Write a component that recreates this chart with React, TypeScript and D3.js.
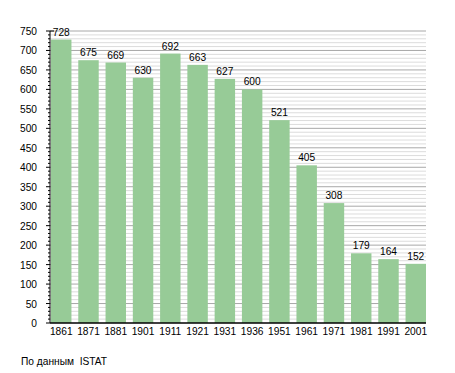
import React from "react";
import * as d3 from "d3";

const YEARS = ["1861", "1871", "1881", "1901", "1911", "1921", "1931", "1936", "1951", "1961", "1971", "1981", "1991", "2001"];
const POPULATION = [728, 675, 669, 630, 692, 663, 627, 600, 521, 405, 308, 179, 164, 152];
const MAJOR_TICKS = d3.range(0, 751, 50);
const MINOR_TICKS = d3.range(0, 751, 10);

const WIDTH = 455;
const HEIGHT = 373;
const LEFT = 50;
const RIGHT = 426;
const TOP = 31;
const BOTTOM = 323;

const BAR_COLOR = "#97cb97";
const FONT = "Liberation Sans, Arial, sans-serif";
const FONT_SIZE = 10.2;

const App = () => {
  const xScale = d3.scaleBand().domain(YEARS).range([51, RIGHT]).paddingInner(0.25).paddingOuter(0);
  const yScale = d3.scaleLinear().domain([0, 750]).range([BOTTOM, TOP]);

  return (
    <svg width={WIDTH} height={HEIGHT} style={{ position: "absolute", left: 0, top: 0 }}>
      <rect width={WIDTH} height={HEIGHT} fill="#ffffff" />
      {/* minor grid */}
      {MINOR_TICKS.filter((t) => t % 50 !== 0).map((t) => (
        <line key={"m" + t} x1={LEFT} x2={RIGHT} y1={yScale(t)} y2={yScale(t)} stroke="#dcdcdc" strokeWidth={1} />
      ))}
      {MAJOR_TICKS.filter((t) => t > 0).map((t) => (
        <line key={"M" + t} x1={LEFT} x2={RIGHT} y1={yScale(t)} y2={yScale(t)} stroke="#a8a8a8" strokeWidth={1} />
      ))}
      {/* bars */}
      {POPULATION.map((v, i) => (
        <g key={YEARS[i]}>
          <rect
            x={xScale(YEARS[i])}
            y={yScale(v)}
            width={xScale.bandwidth()}
            height={BOTTOM - yScale(v)}
            fill={BAR_COLOR}
          />
          <text
            x={(xScale(YEARS[i]) as number) + xScale.bandwidth() / 2}
            y={yScale(v) - 4}
            textAnchor="middle"
            fontSize={FONT_SIZE}
            fontFamily={FONT}
            fill="#000"
          >
            {v}
          </text>
          <text
            x={(xScale(YEARS[i]) as number) + xScale.bandwidth() / 2}
            y={BOTTOM + 12}
            textAnchor="middle"
            fontSize={FONT_SIZE}
            fontFamily={FONT}
            fill="#000"
          >
            {YEARS[i]}
          </text>
        </g>
      ))}
      {/* y axis */}
      <line x1={LEFT} x2={LEFT} y1={TOP} y2={BOTTOM} stroke="#000" strokeWidth={1} />
      <line x1={LEFT} x2={LEFT + 4} y1={TOP} y2={TOP} stroke="#000" strokeWidth={1} />
      {MINOR_TICKS.map((t) => (
        <line
          key={"t" + t}
          x1={t % 50 === 0 ? LEFT - 4 : LEFT - 2}
          x2={LEFT}
          y1={yScale(t)}
          y2={yScale(t)}
          stroke="#000"
          strokeWidth={1}
        />
      ))}
      {MAJOR_TICKS.map((t) => (
        <text
          key={"l" + t}
          x={LEFT - 13}
          y={yScale(t) + 4}
          textAnchor="end"
          fontSize={FONT_SIZE}
          fontFamily={FONT}
          fill="#000"
        >
          {t}
        </text>
      ))}
      {/* x axis */}
      <line x1={LEFT} x2={RIGHT} y1={BOTTOM} y2={BOTTOM} stroke="#000" strokeWidth={1.5} />
      <text x={21} y={365} fontSize={FONT_SIZE} fontFamily={FONT} fill="#000" style={{ whiteSpace: "pre" }}>
        {"По данным  ISTAT"}
      </text>
    </svg>
  );
};

export default App;
